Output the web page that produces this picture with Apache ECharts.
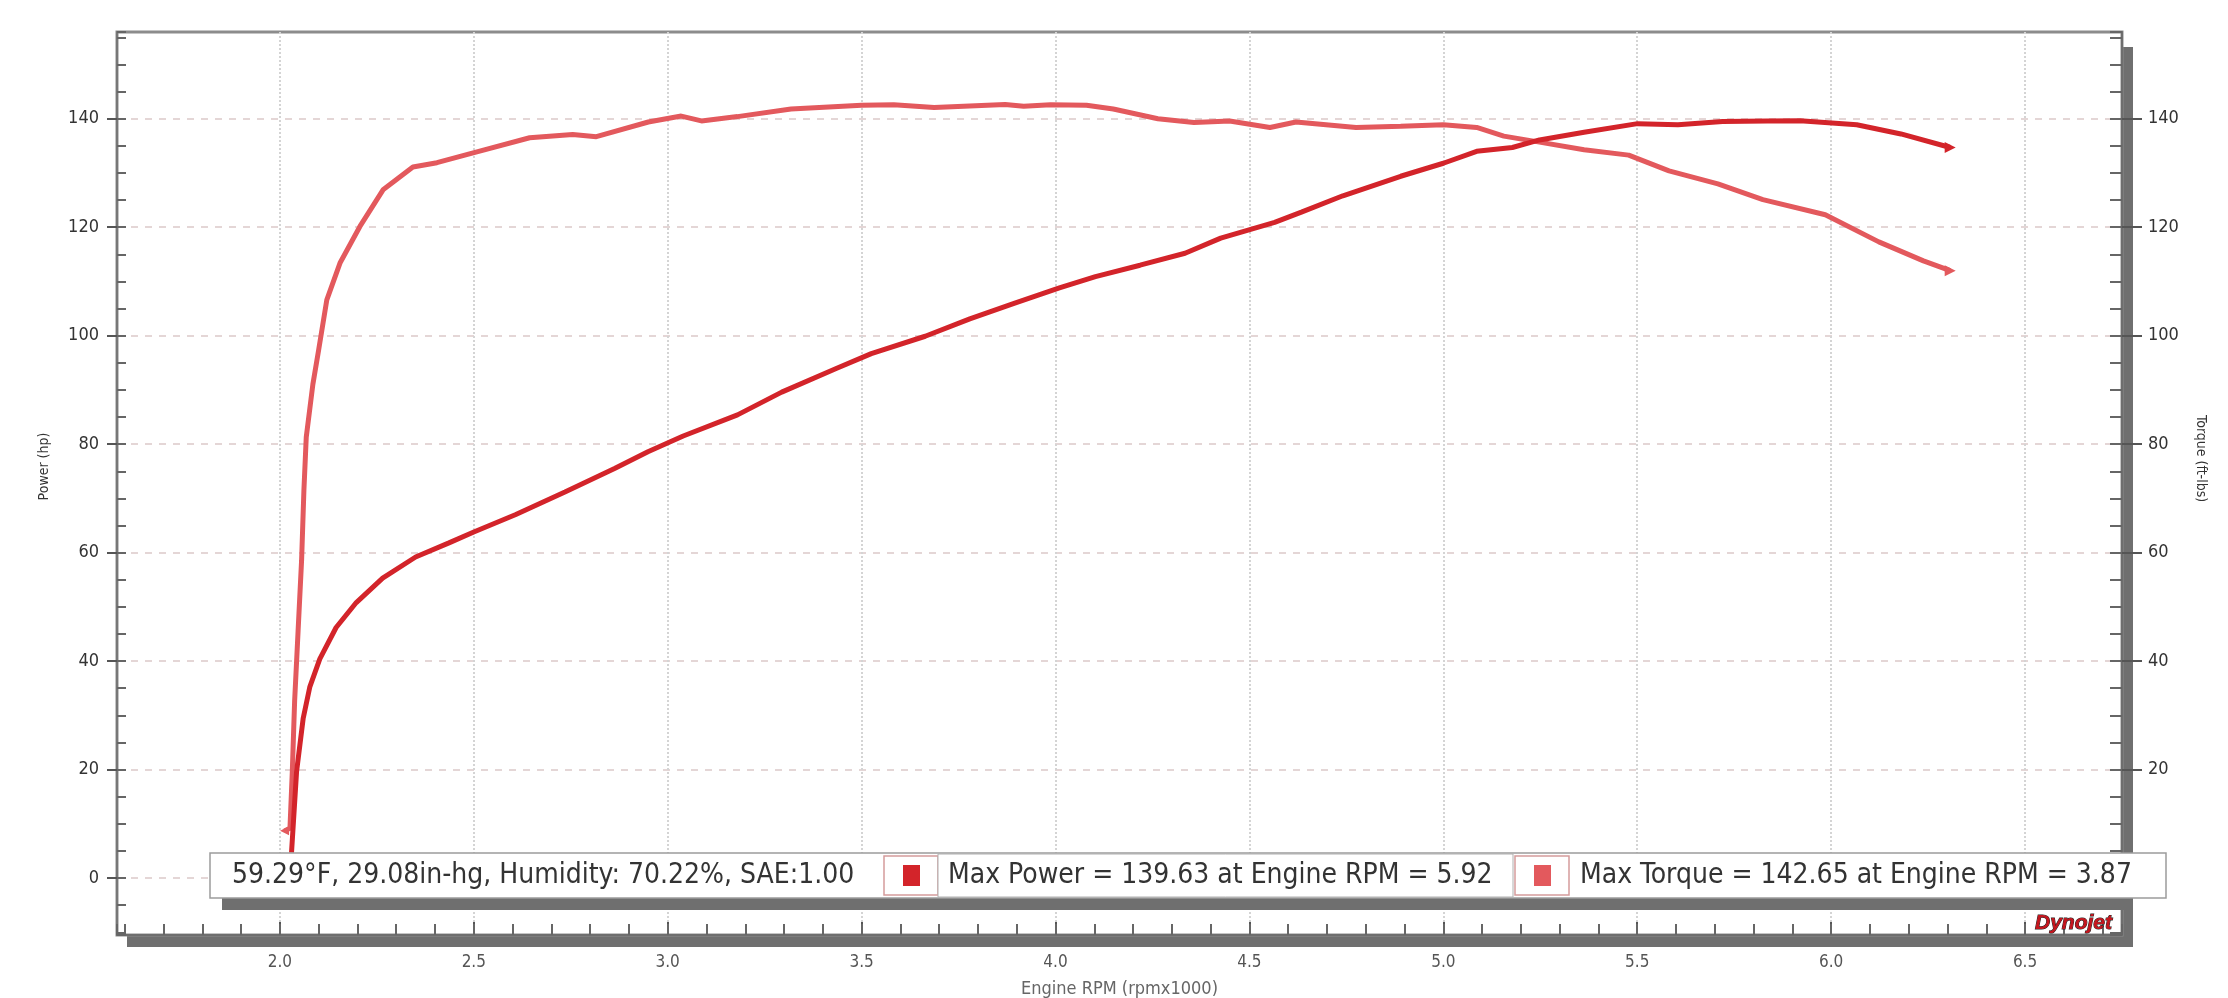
<!DOCTYPE html>
<html>
<head>
<meta charset="utf-8">
<title>Dyno Power &amp; Torque</title>
<script src="https://cdn.jsdelivr.net/npm/echarts@6/dist/echarts.min.js"></script>
<style>
  html, body { margin: 0; padding: 0; background: #fff; }
  #chart { width: 2228px; height: 998px; }
</style>
</head>
<body>
<div id="chart"></div>
<script>
// axis ranges (rpm x1000, hp / ft-lbs share one scale)
const rpmMin = 1.58
const rpmMax = 6.75
const valMin = -10.5
const valMax = 156

const powerRpm = [2.030, 2.043, 2.060, 2.077, 2.103, 2.145, 2.197, 2.265, 2.350, 2.436, 2.500, 2.607, 2.735, 2.863, 2.949,
  3.040, 3.180, 3.294, 3.433, 3.525, 3.664, 3.779, 3.895, 4.010, 4.103, 4.218, 4.334, 4.426, 4.565, 4.634,
  4.741, 4.890, 5.000, 5.086, 5.178, 5.248, 5.363, 5.501, 5.605, 5.720, 5.835, 5.920, 6.066, 6.180, 6.307]
const powerHp = [4.7, 19.6, 29.4, 35.2, 40.4, 46.2, 50.8, 55.3, 59.2, 61.8, 63.8, 67.0, 71.2, 75.5, 78.6,
  81.5, 85.4, 89.6, 93.9, 96.7, 99.9, 103.1, 106.0, 108.8, 110.9, 113.0, 115.2, 118.0, 120.9, 122.8,
  125.8, 129.4, 131.8, 134.0, 134.7, 136.1, 137.5, 139.1, 138.9, 139.5, 139.6, 139.63, 138.9, 137.2, 134.7]

const torqueRpm = [2.012, 2.026, 2.032, 2.038, 2.047, 2.056, 2.062, 2.068, 2.085, 2.100, 2.121, 2.155, 2.206, 2.266,
  2.343, 2.405, 2.508, 2.644, 2.755, 2.816, 2.950, 3.035, 3.087, 3.180, 3.318, 3.500, 3.583, 3.687, 3.870,
  3.918, 3.987, 4.080, 4.149, 4.264, 4.357, 4.449, 4.553, 4.620, 4.775, 4.890, 5.000, 5.086, 5.156, 5.248,
  5.363, 5.478, 5.582, 5.708, 5.824, 5.985, 6.123, 6.238, 6.307]
const torqueFtLbs = [8.7, 9.2, 19.6, 32.6, 45.6, 58.6, 71.6, 81.3, 91.0, 97.4, 106.6, 113.4, 120.1, 126.9,
  131.1, 131.9, 133.9, 136.5, 137.1, 136.7, 139.4, 140.5, 139.6, 140.4, 141.8, 142.5, 142.6, 142.1, 142.65,
  142.3, 142.6, 142.5, 141.8, 140.0, 139.3, 139.6, 138.4, 139.4, 138.4, 138.6, 138.9, 138.4, 136.8, 135.7,
  134.3, 133.3, 130.4, 128.0, 125.1, 122.3, 117.3, 113.8, 112.0]

const conditionsText = '59.29°F, 29.08in-hg, Humidity: 70.22%, SAE:1.00'
const maxPowerText = 'Max Power = 139.63 at Engine RPM = 5.92'
const maxTorqueText = 'Max Torque = 142.65 at Engine RPM = 3.87'

const powerColor = '#d3242a'
const torqueColor = '#e3595d'
const boxFont = '"DejaVu Sans Condensed", "Liberation Sans Narrow", "Liberation Sans", sans-serif'
const axisFont = '"DejaVu Sans Condensed", "Liberation Sans", sans-serif'

// pair up x/y and put a small arrow head on the last point (and first, if asked)
function buildLine (xs, ys, markFirst) {
  return xs.map((x, i) => {
    const item = { value: [x, ys[i]] }
    if (i === xs.length - 1) {
      item.symbol = 'triangle'
      item.symbolSize = 11
      item.symbolRotate = -90
    }
    if (markFirst && i === 0) {
      item.symbol = 'triangle'
      item.symbolSize = 9
      item.symbolRotate = 90
    }
    return item
  })
}

const myChart = echarts.init(document.getElementById('chart'))

const box = { y: 853, h: 45 }
const boxTextFont = '28px ' + boxFont

myChart.setOption({
  backgroundColor: '#ffffff',
  animation: false,
  grid: {
    left: 117,
    right: 106,
    top: 32,
    bottom: 63,
    outerBoundsMode: 'none',
    containLabel: false,
    show: true,
    borderColor: '#8c8c8c',
    borderWidth: 3
  },
  xAxis: [
    {
      type: 'value',
      min: rpmMin,
      max: rpmMax,
      minInterval: 0.5,
      maxInterval: 0.5,
      position: 'bottom',
      name: 'Engine RPM (rpmx1000)',
      nameLocation: 'middle',
      nameGap: 45,
      nameTextStyle: { fontSize: 18, color: '#666', fontFamily: axisFont },
      axisLine: { onZero: false, lineStyle: { color: '#6e6e6e', width: 2 } },
      axisTick: { show: true, inside: true, length: 13, lineStyle: { color: '#555', width: 2 } },
      axisLabel: {
        showMinLabel: false,
        showMaxLabel: false,
        fontSize: 17,
        color: '#555',
        fontFamily: axisFont,
        margin: 19,
        formatter: v => v.toFixed(1)
      },
      splitLine: { show: true, showMinLine: false, showMaxLine: false, lineStyle: { type: 'dotted', color: '#d4d4d4', width: 2 } }
    },
    {
      // minor ticks every 0.1
      type: 'value',
      min: rpmMin,
      max: rpmMax,
      minInterval: 0.1,
      maxInterval: 0.1,
      position: 'bottom',
      axisLine: { show: false, onZero: false },
      axisTick: { show: true, inside: true, length: 11, lineStyle: { color: '#666', width: 2 } },
      axisLabel: { show: false },
      splitLine: { show: false }
    }
  ],
  yAxis: [
    {
      type: 'value',
      min: valMin,
      max: valMax,
      minInterval: 20,
      maxInterval: 20,
      position: 'left',
      name: 'Power (hp)',
      nameLocation: 'middle',
      nameGap: 66,
      nameRotate: 90,
      nameTextStyle: { fontSize: 14, color: '#333', fontFamily: axisFont, padding: [0, 0, 0, 34] },
      axisLine: { onZero: false, lineStyle: { color: '#777', width: 2 } },
      axisTick: { show: true, inside: false, length: 10, lineStyle: { color: '#555', width: 2 } },
      axisLabel: { showMinLabel: false, showMaxLabel: false, fontSize: 18, color: '#333', fontFamily: axisFont, margin: 18 },
      splitLine: { show: true, showMinLine: false, showMaxLine: false, lineStyle: { type: [7, 7], color: '#dbc9c9', width: 1.5 } }
    },
    {
      type: 'value',
      min: valMin,
      max: valMax,
      minInterval: 20,
      maxInterval: 20,
      position: 'right',
      name: 'Torque (ft-lbs)',
      nameLocation: 'middle',
      nameGap: 72,
      nameRotate: -90,
      nameTextStyle: { fontSize: 14, color: '#333', fontFamily: axisFont, padding: [0, 50, 0, 0] },
      axisLine: { onZero: false, lineStyle: { color: '#6e6e6e', width: 2 } },
      axisTick: { show: true, inside: false, length: 20, lineStyle: { color: '#555', width: 2 } },
      axisLabel: { showMinLabel: false, showMaxLabel: false, fontSize: 18, color: '#333', fontFamily: axisFont, margin: 26 },
      splitLine: { show: false }
    },
    {
      // minor ticks every 5, left
      type: 'value',
      min: valMin,
      max: valMax,
      minInterval: 5,
      maxInterval: 5,
      position: 'left',
      axisLine: { show: false, onZero: false },
      axisTick: { show: true, inside: true, length: 9, lineStyle: { color: '#666', width: 2 } },
      axisLabel: { show: false },
      splitLine: { show: false }
    },
    {
      // minor ticks every 5, right
      type: 'value',
      min: valMin,
      max: valMax,
      minInterval: 5,
      maxInterval: 5,
      position: 'right',
      axisLine: { show: false, onZero: false },
      axisTick: { show: true, inside: true, length: 12, lineStyle: { color: '#666', width: 2 } },
      axisLabel: { show: false },
      splitLine: { show: false }
    }
  ],
  series: [
    {
      name: 'Torque',
      type: 'line',
      xAxisIndex: 0,
      yAxisIndex: 0,
      symbol: 'none',
      showSymbol: true,
      data: buildLine(torqueRpm, torqueFtLbs, true),
      itemStyle: { color: torqueColor },
      lineStyle: { color: torqueColor, width: 5 },
      z: 3
    },
    {
      name: 'Power',
      type: 'line',
      xAxisIndex: 0,
      yAxisIndex: 0,
      symbol: 'none',
      showSymbol: true,
      data: buildLine(powerRpm, powerHp, false),
      itemStyle: { color: powerColor },
      lineStyle: { color: powerColor, width: 5 },
      z: 4
    }
  ],
  graphic: [
    // drop shadow of the plot frame
    { type: 'rect', z: -1, shape: { x: 127, y: 935, width: 2006, height: 12 }, style: { fill: '#6f6f6f' } },
    { type: 'rect', z: -1, shape: { x: 2122, y: 47, width: 11, height: 900 }, style: { fill: '#6f6f6f' } },
    // info strip
    { type: 'rect', z: 20, shape: { x: 222, y: box.y + box.h, width: 1911, height: 12 }, style: { fill: '#6f6f6f' } },
    { type: 'rect', z: 21, shape: { x: 210, y: box.y, width: 1956, height: box.h }, style: { fill: '#fff', stroke: '#9c9c9c', lineWidth: 1.5 } },
    { type: 'rect', z: 22, shape: { x: 884, y: box.y + 3, width: 54, height: box.h - 6 }, style: { fill: '#fff', stroke: '#d59c9c', lineWidth: 1.5 } },
    { type: 'rect', z: 22, shape: { x: 938, y: box.y + 1, width: 575, height: box.h - 2 }, style: { fill: '#fff', stroke: '#b0b0b0', lineWidth: 1 } },
    { type: 'rect', z: 22, shape: { x: 1515, y: box.y + 3, width: 54, height: box.h - 6 }, style: { fill: '#fff', stroke: '#d59c9c', lineWidth: 1.5 } },
    { type: 'rect', z: 23, shape: { x: 903, y: box.y + 12, width: 17, height: 21 }, style: { fill: powerColor } },
    { type: 'rect', z: 23, shape: { x: 1534, y: box.y + 12, width: 17, height: 21 }, style: { fill: torqueColor } },
    { type: 'text', z: 23, x: 232, y: box.y + box.h / 2, style: { text: conditionsText, font: boxTextFont, fill: '#333', verticalAlign: 'middle' } },
    { type: 'text', z: 23, x: 948, y: box.y + box.h / 2, style: { text: maxPowerText, font: boxTextFont, fill: '#333', verticalAlign: 'middle' } },
    { type: 'text', z: 23, x: 1580, y: box.y + box.h / 2, style: { text: maxTorqueText, font: boxTextFont, fill: '#333', verticalAlign: 'middle' } },
    // logo
    {
      type: 'text',
      z: 23,
      x: 2112,
      y: 923,
      style: {
        text: 'Dynojet',
        font: 'italic bold 21px "Liberation Sans", sans-serif',
        fill: '#c3161e',
        stroke: '#222',
        lineWidth: 1,
        align: 'right',
        verticalAlign: 'middle'
      }
    }
  ]
})

window.addEventListener('resize', () => {
  myChart.resize()
})
</script>
</body>
</html>
